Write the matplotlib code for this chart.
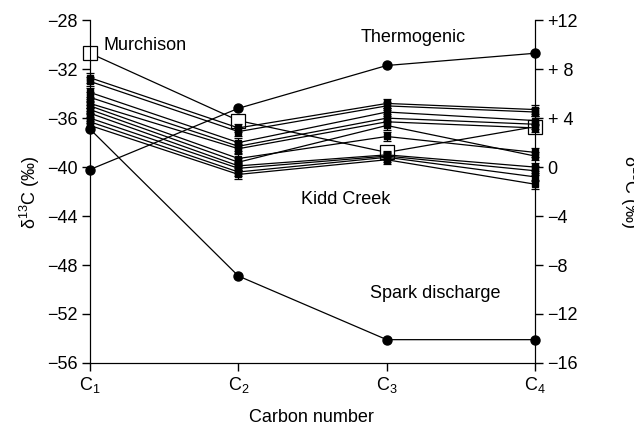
import matplotlib.pyplot as plt
import numpy as np

plt.rcParams['font.family'] = ['Liberation Sans', 'DejaVu Sans']
plt.rcParams['mathtext.fontset'] = 'custom'
plt.rcParams['mathtext.rm'] = 'Liberation Sans'
plt.rcParams['mathtext.it'] = 'Liberation Sans:italic'
plt.rcParams['font.size'] = 13

# carbon number C1..C4
carbon = [1, 2, 3, 4]
carbon_labels = ['C$_1$', 'C$_2$', 'C$_3$', 'C$_4$']

# Kidd Creek gases, d13C (left axis)
kidd_creek = [
    [-32.7, -36.8, -34.8, -35.3],
    [-33.0, -37.1, -35.0, -35.5],
    [-33.9, -38.0, -35.5, -36.2],
    [-34.3, -38.3, -36.0, -36.5],
    [-34.8, -38.5, -36.3, -36.8],
    [-35.0, -39.3, -37.5, -38.8],
    [-35.3, -39.6, -36.6, -39.1],
    [-35.6, -39.9, -39.0, -40.0],
    [-36.0, -40.1, -39.1, -40.3],
    [-36.3, -40.4, -39.2, -40.8],
    [-36.6, -40.6, -39.4, -41.4],
]
kidd_err = [0.4, 0.35, 0.35, 0.35]

spark = [-36.9, -48.9, -54.1, -54.1]
thermogenic = [-40.2, -35.2, -31.7, -30.7]
# Murchison on the right axis
murchison = [9.3, 3.8, 1.2, 3.3]

left_ticks = [-56, -52, -48, -44, -40, -36, -32, -28]
left_labels = ['\u221256', '\u221252', '\u221248', '\u221244', '\u221240', '\u221236', '\u221232', '\u221228']
right_ticks = [-16, -12, -8, -4, 0, 4, 8, 12]
right_labels = ['\u221216', '\u221212', '\u22128', '\u22124', '0', '+ 4', '+ 8', '+12']

fig = plt.figure(figsize=(6.34, 4.30), dpi=100)
ax = fig.add_axes([0.142, 0.156, 0.702, 0.797])

for row in kidd_creek:
    ax.errorbar(carbon, row, yerr=kidd_err, color='k', lw=0.9, marker='s', ms=4.5,
                capsize=3, elinewidth=0.9, capthick=0.9, clip_on=False, zorder=3)

ax.plot(carbon, spark, color='k', lw=0.9, marker='o', ms=6.5, clip_on=False, zorder=3)
ax.plot(carbon, thermogenic, color='k', lw=0.9, marker='o', ms=6.5, clip_on=False, zorder=3)

ax.set_xlim(1, 4)
ax.set_ylim(-56, -28)
ax.set_xticks(carbon)
ax.set_xticklabels(carbon_labels)
ax.set_yticks(left_ticks)
ax.set_yticklabels(left_labels)
ax.spines['top'].set_visible(False)
ax.tick_params(direction='out', length=6, width=1, pad=3)

ax2 = ax.twinx()
ax2.plot(carbon, murchison, color='k', lw=0.9, marker='s', ms=9.5, mfc='white',
         mec='k', mew=0.9, clip_on=False, zorder=5)
ax2.set_ylim(-16, 12)
ax2.set_yticks(right_ticks)
ax2.set_yticklabels(right_labels)
ax2.spines['top'].set_visible(False)
ax2.tick_params(direction='out', length=6, width=1, pad=3)
ax.set_zorder(ax2.get_zorder() + 1)
ax.patch.set_visible(False)

ax.text(1.09, -30.1, 'Murchison', ha='left', va='center')
ax.text(3.18, -29.4, 'Thermogenic', ha='center', va='center')
ax.text(2.72, -42.65, 'Kidd Creek', ha='center', va='center')
ax.text(3.33, -50.3, 'Spark discharge', ha='center', va='center')

fig.text(30 / 634, 0.553, '\u03b4$^{13}$C (\u2030)', rotation=90, ha='center', va='center')
fig.text(630 / 634, 0.553, '\u03b4$^{13}$C (\u2030)', rotation=270, ha='center', va='center')
fig.text(0.492, 1 - 418 / 430, 'Carbon number', ha='center', va='center')

fig.savefig('out.png', dpi=100)
